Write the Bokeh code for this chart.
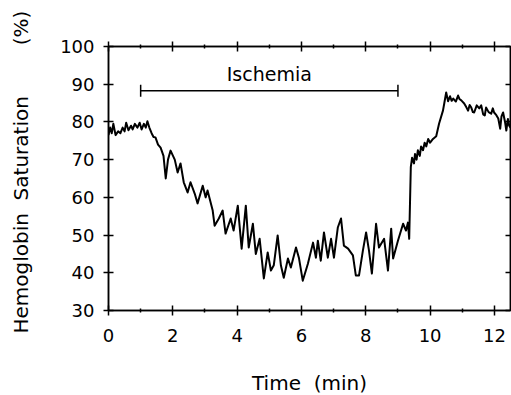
import numpy as np
from bokeh.plotting import figure
from bokeh.models import LinearAxis, Range1d, FixedTicker, CustomLabelingPolicy
from bokeh.embed import file_html
from bokeh.resources import INLINE

# ---- data ----
time_min = [0.00, 0.05, 0.10, 0.15, 0.22, 0.30, 0.37, 0.44, 0.50, 0.55, 0.62, 0.70, 0.75,
            0.82, 0.90, 0.97, 1.03, 1.10, 1.16, 1.21, 1.27, 1.34, 1.40, 1.46, 1.54, 1.62,
            1.71, 1.78, 1.85, 1.93, 2.06, 2.15, 2.24, 2.34, 2.46, 2.55, 2.68, 2.77, 2.93,
            3.02, 3.08, 3.24, 3.30, 3.43, 3.55, 3.64, 3.80, 3.89, 4.02, 4.14, 4.27, 4.36,
            4.49, 4.58, 4.70, 4.83, 4.95, 5.05, 5.14, 5.26, 5.36, 5.45, 5.58, 5.67, 5.83,
            5.92, 6.04, 6.20, 6.36, 6.45, 6.51, 6.60, 6.70, 6.82, 6.92, 7.01, 7.13, 7.23,
            7.32, 7.45, 7.60, 7.69, 7.79, 7.91, 8.01, 8.10, 8.19, 8.32, 8.41, 8.57, 8.69,
            8.79, 8.85, 9.00, 9.16, 9.25, 9.31, 9.35, 9.40, 9.44, 9.50, 9.53, 9.58, 9.62,
            9.68, 9.72, 9.78, 9.83, 9.88, 9.94, 10.00, 10.09, 10.19, 10.28, 10.40, 10.44,
            10.50, 10.56, 10.62, 10.67, 10.72, 10.80, 10.87, 10.92, 10.97, 11.06, 11.12,
            11.18, 11.23, 11.28, 11.33, 11.37, 11.45, 11.53, 11.59, 11.65, 11.70, 11.74,
            11.82, 11.90, 11.95, 11.99, 12.06, 12.12, 12.18, 12.22, 12.27, 12.33, 12.37,
            12.42, 12.46, 12.50]
saturation = [76.5, 78.5, 77.0, 79.5, 76.5, 77.5, 77.0, 78.5, 77.5, 79.8, 77.8, 79.0, 78.0,
              79.5, 78.5, 79.8, 78.0, 79.5, 78.5, 80.2, 78.5, 77.0, 76.0, 75.9, 74.0, 73.2,
              71.0, 65.0, 70.0, 72.4, 70.0, 66.6, 69.0, 64.0, 61.3, 64.0, 61.0, 58.4, 63.1,
              60.0, 61.8, 56.5, 52.5, 54.4, 56.5, 50.4, 54.4, 51.2, 57.8, 46.4, 57.8, 46.7,
              53.0, 45.0, 49.0, 38.5, 45.4, 40.6, 42.0, 49.9, 42.0, 38.7, 43.8, 41.4, 46.7,
              44.0, 37.9, 42.4, 48.0, 44.0, 48.5, 43.2, 50.7, 44.0, 49.0, 44.0, 52.0, 54.4,
              47.2, 46.4, 44.6, 39.3, 39.3, 45.9, 50.7, 45.9, 39.8, 53.0, 46.7, 49.0, 40.6,
              51.7, 43.8, 48.5, 53.0, 51.2, 53.3, 49.0, 68.0, 70.5, 69.0, 71.5, 70.0, 72.5,
              71.0, 73.5, 72.5, 74.5, 73.5, 75.5, 74.5, 75.5, 76.2, 79.6, 83.0, 84.9, 87.8,
              85.5, 86.8, 85.6, 86.2, 85.4, 87.0, 86.0, 85.7, 84.9, 84.0, 83.0, 84.5, 83.8,
              82.6, 82.5, 84.4, 83.6, 84.4, 82.0, 81.7, 83.8, 82.6, 82.2, 83.6, 82.5, 81.8,
              80.9, 78.2, 81.5, 82.5, 80.0, 77.7, 80.8, 79.0, 78.5]

ischemia_start = 1.0
ischemia_end = 9.0
ischemia_level = 88.3
ischemia_label = "Ischemia"

x_major_ticks = [0, 2, 4, 6, 8, 10, 12]
x_minor_ticks = [1, 3, 5, 7, 9, 11]
y_major_ticks = [30, 40, 50, 60, 70, 80, 90, 100]

FONT = "DejaVu Sans"
NB = "\u00a0"

p = figure(frame_width=402, frame_height=264,
           x_range=Range1d(0, 12.5), y_range=Range1d(30, 100),
           output_backend="svg", toolbar_location=None,
           min_border_left=108, min_border_top=46, min_border_right=0,
           min_border_bottom=80, background_fill_color="white",
           border_fill_color="white")
p.xgrid.visible = False
p.ygrid.visible = False
p.outline_line_color = "black"
p.outline_line_width = 1.5

# bottom axis
xa = p.xaxis[0]
xa.ticker = FixedTicker(ticks=x_major_ticks, minor_ticks=x_minor_ticks)
xa.major_tick_in = 5
xa.major_tick_out = 5
xa.minor_tick_in = 2
xa.minor_tick_out = 2
xa.major_label_standoff = 13
xa.major_label_text_font = FONT
xa.major_label_text_font_size = "18px"
xa.axis_label = "Time" + NB * 2 + "(min)"
xa.axis_label_text_font = FONT
xa.axis_label_text_font_size = "20px"
xa.axis_label_text_font_style = "normal"
xa.axis_label_standoff = 26

# left axis
ya = p.yaxis[0]
ya.ticker = FixedTicker(ticks=y_major_ticks, minor_ticks=[])
ya.major_tick_in = 5
ya.major_tick_out = 5
ya.minor_tick_line_color = None
ya.major_label_standoff = 9
ya.major_label_text_font = FONT
ya.major_label_text_font_size = "18px"
ya.axis_label = NB * 2 + "Hemoglobin" + NB * 2 + "Saturation" + NB * 8 + "(%)"
ya.axis_label_text_font = FONT
ya.axis_label_text_font_size = "20px"
ya.axis_label_text_font_style = "normal"
ya.axis_label_standoff = 24

for ax in (xa, ya):
    ax.axis_line_color = "black"
    ax.axis_line_width = 1.5
    ax.major_tick_line_color = "black"
    ax.major_tick_line_width = 1.5
    ax.minor_tick_line_color = "black" if ax is xa else None
    ax.minor_tick_line_width = 1.5
    ax.major_label_text_color = "black"
    ax.axis_label_text_color = "black"

# top axis (ticks only)
top = LinearAxis(ticker=FixedTicker(ticks=x_major_ticks, minor_ticks=x_minor_ticks),
                 major_tick_in=5, major_tick_out=5, minor_tick_in=2, minor_tick_out=2,
                 major_label_policy=CustomLabelingPolicy(code="return []"),
                 major_label_standoff=0,
                 axis_line_color="black", axis_line_width=1.5,
                 major_tick_line_width=1.5, minor_tick_line_width=1.5)
p.add_layout(top, "above")

# right axis (inner ticks only)
right = LinearAxis(ticker=FixedTicker(ticks=y_major_ticks, minor_ticks=[]),
                   major_tick_in=5, major_tick_out=0, minor_tick_line_color=None,
                   major_label_policy=CustomLabelingPolicy(code="return []"),
                   major_label_standoff=0,
                   axis_line_color="black", axis_line_width=1.5,
                   major_tick_line_width=1.5)
p.add_layout(right, "right")

# trace
p.line(time_min, saturation, line_color="black", line_width=2.0, line_join="round")

# ischemia bar
p.segment(x0=[ischemia_start], y0=[ischemia_level], x1=[ischemia_end], y1=[ischemia_level],
          line_color="black", line_width=1.5)
p.scatter(x=[ischemia_start, ischemia_end], y=[ischemia_level, ischemia_level],
          marker="dash", angle=np.pi / 2, size=12, line_color="black", line_width=1.5)
p.text(x=[(ischemia_start + ischemia_end) / 2], y=[ischemia_level + 4.5],
       text=[ischemia_label], text_align="center", text_baseline="alphabetic",
       text_font_size="19px", text_color="black",
       text_font={"value": FONT})

open("out.html", "w").write(file_html(p, INLINE))
